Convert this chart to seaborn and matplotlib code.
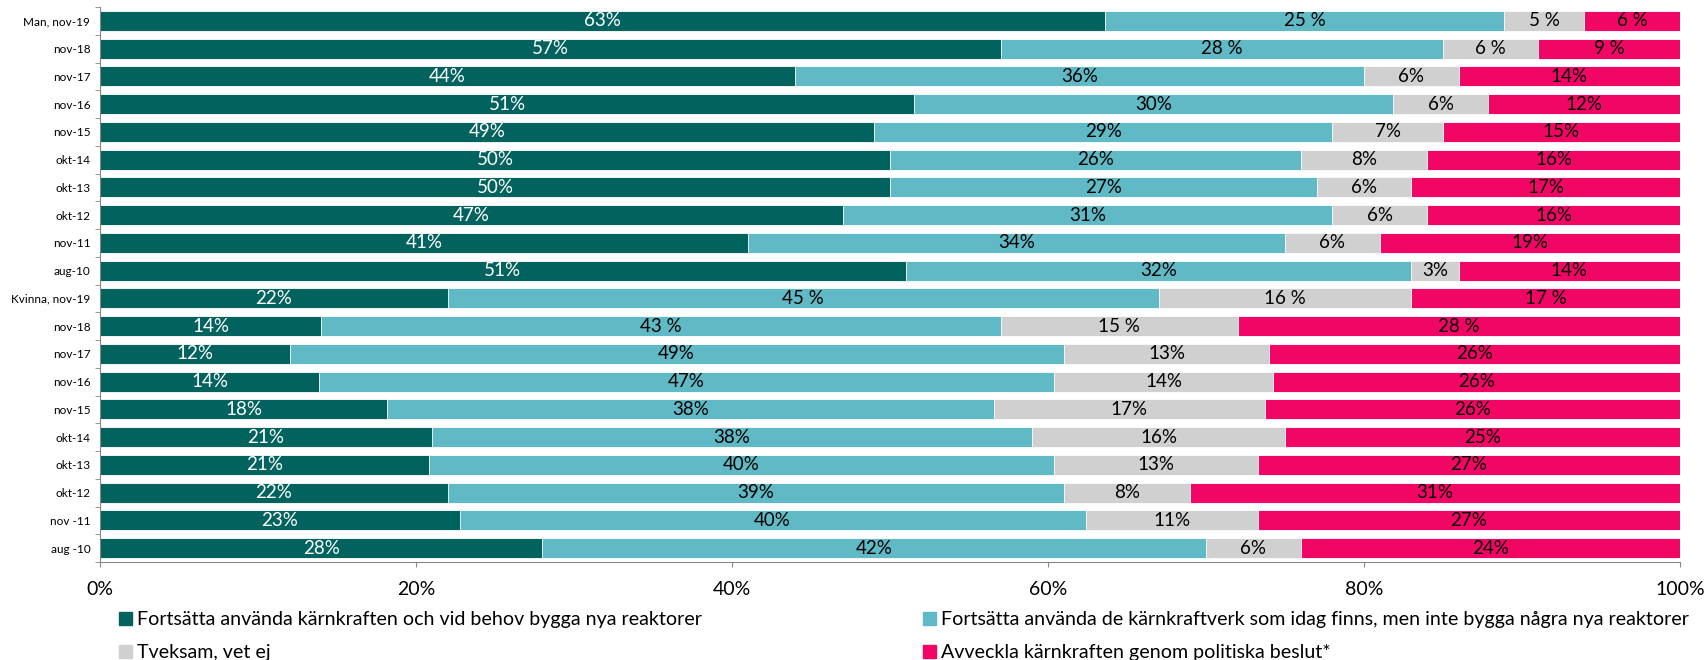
import seaborn as sns
import pandas as pd
import matplotlib.pyplot as plt
from matplotlib.patches import Patch

rows = ['Man, nov-19', 'nov-18', 'nov-17', 'nov-16', 'nov-15', 'okt-14', 'okt-13',
        'okt-12', 'nov-11', 'aug-10',
        'Kvinna, nov-19', 'nov-18', 'nov-17', 'nov-16', 'nov-15', 'okt-14', 'okt-13',
        'okt-12', 'nov -11', 'aug -10']
bygga = [63, 57, 44, 51, 49, 50, 50, 47, 41, 51, 22, 14, 12, 14, 18, 21, 21, 22, 23, 28]
behalla = [25, 28, 36, 30, 29, 26, 27, 31, 34, 32, 45, 43, 49, 47, 38, 38, 40, 39, 40, 42]
tveksam = [5, 6, 6, 6, 7, 8, 6, 6, 6, 3, 16, 15, 13, 14, 17, 16, 13, 8, 11, 6]
avveckla = [6, 9, 14, 12, 15, 16, 17, 16, 19, 14, 17, 28, 26, 26, 26, 25, 27, 31, 27, 24]
# rows where the last three segments are printed as "25 %" instead of "25%"
spaced = [0, 1, 10, 11]

series = ['Fortsätta använda kärnkraften och vid behov bygga nya reaktorer',
          'Fortsätta använda de kärnkraftverk som idag finns, men inte bygga några nya reaktorer',
          'Tveksam, vet ej',
          'Avveckla kärnkraften genom politiska beslut*']
colors = ['#02625E', '#5FBAC5', '#D0D0D0', '#F20665']

plt.rcParams['font.family'] = ['Lato', 'DejaVu Sans']

df = pd.DataFrame({'key': [f'{i}' for i in range(len(rows))],
                   'label': rows, 's0': bygga, 's1': behalla, 's2': tveksam, 's3': avveckla})
tot = df[['s0', 's1', 's2', 's3']].sum(axis=1)
cum = df[['s0', 's1', 's2', 's3']].cumsum(axis=1).div(tot, axis=0) * 100

W, H = 1708, 660
fig = plt.figure(figsize=(W / 100, H / 100), dpi=100)
ax = fig.add_axes([100 / W, 1 - 562 / H, 1580 / W, 555 / H])

order = list(df['key'])
for j in range(3, -1, -1):
    sns.barplot(x=cum[f's{j}'], y=df['key'], order=order, orient='h', color=colors[j],
                width=0.72, edgecolor='white', linewidth=0.6, saturation=1, ax=ax)

for i in range(len(rows)):
    prev = 0
    for j in range(4):
        end = cum.loc[i, f's{j}']
        v = df.loc[i, f's{j}']
        txt = f'{v} %' if (i in spaced and j > 0) else f'{v}%'
        ax.text((prev + end) / 2, i, txt, ha='center', va='center', fontsize=13.5,
                color='white' if j == 0 else 'black')
        prev = end

ax.set_xlim(0, 100)
ax.set_ylim(len(rows) - 0.5, -0.5)
ax.set_xticks(range(0, 101, 20))
ax.set_xticklabels([f'{t}%' for t in range(0, 101, 20)], fontsize=14)
ax.set_yticks(range(len(rows)))
ax.set_yticklabels(rows, fontsize=8.5)
ax.set_yticks([k - 0.5 for k in range(len(rows) + 1)], minor=True)
ax.tick_params(axis='y', which='major', length=0, pad=7)
ax.tick_params(axis='y', which='minor', length=3.5, color='#868686')
ax.tick_params(axis='x', length=3.6, color='#868686', pad=10)
ax.set_xlabel('')
ax.set_ylabel('')
for s in ['top', 'right']:
    ax.spines[s].set_visible(False)
for s in ['left', 'bottom']:
    ax.spines[s].set_color('#868686')

h = [Patch(color=c) for c in colors]
kw = dict(frameon=False, fontsize=14.1, handlelength=0.64, handleheight=0.64,
          handletextpad=0.27, labelspacing=0.82, loc='upper left', borderaxespad=0,
          borderpad=0)
fig.legend([h[0], h[2]], [series[0], series[2]], bbox_to_anchor=(119 / W, 1 - 611 / H), **kw)
fig.legend([h[1], h[3]], [series[1], series[3]], bbox_to_anchor=(923 / W, 1 - 611 / H), **kw)

fig.savefig('out.png', dpi=100)
